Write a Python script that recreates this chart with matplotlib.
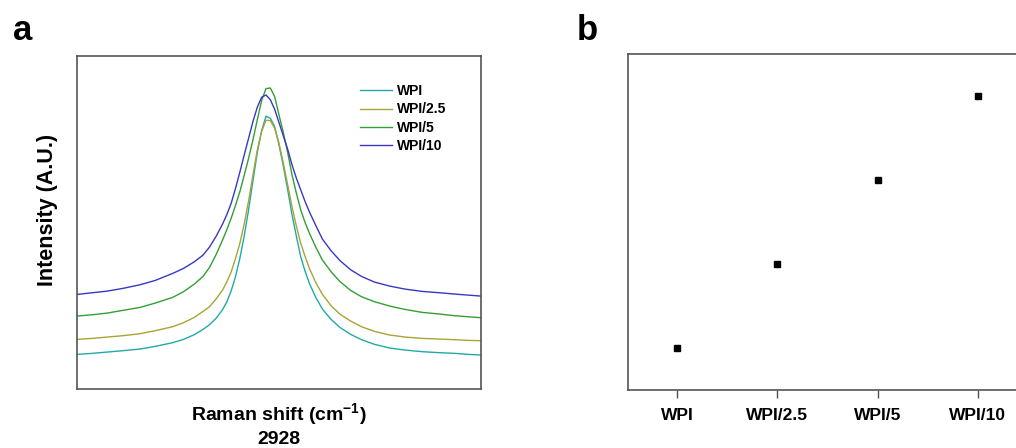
import numpy as np
import matplotlib
matplotlib.use('Agg')
import matplotlib.pyplot as plt

plt.rcParams['font.family'] = ['Liberation Sans', 'DejaVu Sans']
plt.rcParams['font.weight'] = 'bold'
plt.rcParams['mathtext.fontset'] = 'custom'
plt.rcParams['mathtext.bf'] = 'Liberation Sans:bold'
plt.rcParams['mathtext.rm'] = 'Liberation Sans:bold'

# Raman shift (cm-1)
raman = [2841, 2848, 2855, 2862, 2870, 2877, 2885, 2890, 2895, 2899, 2902, 2905, 2908, 2910,
         2912, 2914, 2916, 2918, 2920, 2922, 2924, 2926, 2928, 2930, 2932, 2934, 2936, 2938,
         2940, 2942, 2944, 2946, 2948, 2951, 2954, 2958, 2962, 2967, 2972, 2978, 2985, 2992,
         3000, 3008, 3015, 3021, 3027]

wpi = [10.4, 10.7, 11.1, 11.5, 12.0, 12.8, 13.9, 14.9, 16.3, 17.9, 19.3, 21.2, 23.8, 26.2,
       29.5, 33.8, 39.3, 46.0, 53.8, 62.5, 71.0, 77.6, 81.9, 81.3, 78.8, 73.3, 66.9, 59.8,
       52.3, 45.9, 39.7, 35.4, 31.7, 27.4, 24.0, 20.9, 18.5, 16.4, 14.8, 13.4, 12.3, 11.7,
       11.2, 10.9, 10.7, 10.4, 10.2]
wpi_25 = [14.9, 15.2, 15.6, 16.0, 16.6, 17.5, 18.7, 19.9, 21.5, 23.3, 24.7, 27.0, 29.7, 32.2,
          35.2, 39.2, 43.8, 49.6, 56.5, 64.3, 71.8, 77.3, 80.7, 80.6, 78.3, 73.8, 67.8, 61.3,
          54.7, 48.9, 43.8, 39.8, 36.2, 31.9, 28.4, 25.0, 22.5, 20.4, 18.7, 17.3, 16.2, 15.6,
          15.2, 15.0, 14.8, 14.6, 14.5]
wpi_5 = [21.9, 22.3, 22.8, 23.6, 24.5, 25.8, 27.5, 29.2, 31.5, 33.8, 36.5, 40.3, 44.7, 47.9,
         51.3, 55.2, 59.3, 64.2, 69.3, 74.8, 80.8, 86.6, 90.2, 90.4, 87.8, 82.3, 77.0, 71.0,
         64.3, 58.8, 53.8, 50.0, 46.8, 42.5, 38.7, 35.2, 32.3, 29.6, 27.7, 26.2, 24.9, 23.9,
         23.0, 22.5, 22.0, 21.7, 21.4]
wpi_10 = [28.4, 28.9, 29.4, 30.2, 31.3, 32.6, 34.7, 36.2, 38.2, 40.2, 42.6, 45.8, 49.5, 52.4,
          55.8, 60.3, 65.2, 70.3, 75.3, 80.3, 84.6, 87.6, 88.3, 86.9, 84.0, 80.0, 76.0, 72.0,
          67.3, 63.3, 59.8, 56.3, 53.2, 49.0, 45.0, 41.5, 38.6, 35.8, 33.8, 32.1, 30.9, 30.0,
          29.3, 28.9, 28.5, 28.2, 27.9]

series = [wpi, wpi_25, wpi_5, wpi_10]
names = ['WPI', 'WPI/2.5', 'WPI/5', 'WPI/10']
colors = ['#22a9a6', '#a6a535', '#32a032', '#3838c4']

# panel b
samples = ['WPI', 'WPI/2.5', 'WPI/5', 'WPI/10']
values_b = [1, 2, 3, 4]

fig = plt.figure(figsize=(10.16, 4.48), dpi=100)
spine_col = '#555555'

# panel a
ax1 = fig.add_axes([77/1016, 1-389/448, 404/1016, 333/448])
for y, n, c in zip(series, names, colors):
    ax1.plot(raman, y, color=c, lw=1.0, label=n)
ax1.set_xlim(2841, 3027)
ax1.set_ylim(0, 100)
ax1.set_xticks([])
ax1.set_yticks([])
for s in ax1.spines.values():
    s.set_color(spine_col)
    s.set_linewidth(1.2)
ax1.set_xlabel('Raman shift (cm$^{\\mathbf{-1}}$)\n2928', fontsize=14, fontweight='bold',
               labelpad=9, linespacing=1.2)
ax1.set_ylabel('Intensity (A.U.)', fontsize=15.5, fontweight='bold')
ax1.yaxis.set_label_coords(-0.047, 0.537)
ax1.legend(loc='upper left', bbox_to_anchor=(0.70, 0.915), frameon=False,
           borderaxespad=0, borderpad=0, handlelength=2.3, handletextpad=0.35,
           labelspacing=0.3, prop={'weight': 'bold', 'size': 10})

# panel b
ax2 = fig.add_axes([628/1016, 1-390/448, 400/1016, 336/448])
xs = np.arange(len(samples))
ax2.plot(xs, values_b, 's', color='black', markersize=5, ls='none')
ax2.set_xlim(-0.49, 3.5)
ax2.set_ylim(0.5, 4.5)
ax2.set_xticks(xs)
ax2.set_xticklabels(samples, fontsize=12.5, fontweight='bold')
ax2.set_yticks([])
ax2.tick_params(axis='x', direction='out', length=6, width=1, color=spine_col, pad=7)
for s in ax2.spines.values():
    s.set_color(spine_col)
    s.set_linewidth(1.2)

fig.text(13/1016, 1-40/448, 'a', fontsize=25, fontweight='bold')
fig.text(577/1016, 1-40/448, 'b', fontsize=25, fontweight='bold')

fig.savefig('out.png', dpi=100)
